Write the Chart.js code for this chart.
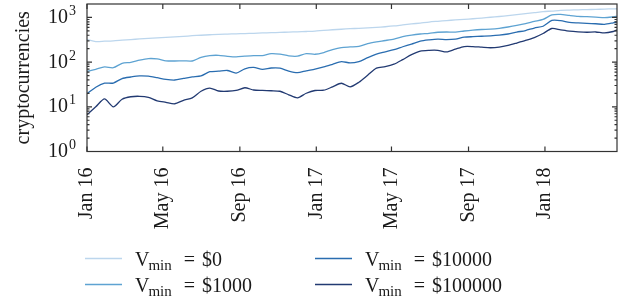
<!DOCTYPE html>
<html>
<head>
<meta charset="utf-8">
<script src="https://cdn.jsdelivr.net/npm/chart.js@4.4.1/dist/chart.umd.min.js"></script>
<style>
  html, body { margin: 0; padding: 0; background: #fff; }
</style>
</head>
<body>
<canvas id="chart" width="632" height="298"></canvas>
<script>
// days since 1 Jan 2016, a point every two weeks
var days = [0,14,28,42,56,70,84,98,112,126,140,154,168,182,196,210,224,238,252,266,280,294,308,322,336,350,364,378,392,406,420,434,448,462,476,490,504,518,532,546,560,574,588,602,616,630,644,658,672,686,700,714,728,742,756,770,784,798,812,826,840,846];

// number of cryptocurrencies above each minimum volume
var vmin0 = [320,289,294,300,310,320,330,340,350,360,368,378,390,400,410,420,425,430,435,442,450,457,462,470,477,485,495,515,530,545,560,572,585,600,620,645,680,715,750,790,820,850,880,905,935,970,1010,1050,1100,1160,1220,1280,1350,1390,1440,1460,1480,1500,1515,1540,1555,1565];
var vmin1000 = [62,69,78,75,94,99,111,120,118,107,106,107,106,128,140,142,135,131,136,140,140,155,151,138,136,155,150,164,191,212,219,225,261,285,305,329,373,403,426,442,466,472,470,497,520,537,548,572,611,661,725,813,902,1140,1170,1110,1060,1040,1020,990,1030,1060];
var vmin10000 = [19.6,27.5,33.7,34,43,46.5,49.2,48.4,44.8,41.2,39.8,43.1,46.6,49.2,61,62.6,65,57,71,76,69,74,73.5,63,58,64,70,78,89.5,103,96,103,126,151,170,191,221,254,295,315,328,320,328,361,372,380,388,402,426,470,510,580,635,855,848,777,755,737,722,703,758,790];
var vmin100000 = [6.6,10,15,10,14.8,16.8,17.2,16.3,13.6,12.6,11.7,14,15.9,22.3,26.3,22.6,22.3,23.2,26.7,23.8,23.3,22.9,22.3,18.6,15.9,20.1,23.2,23.5,28,33.7,28,35.5,51,73.5,79,90,114,147,177,184,184,169,195,223,223,216,210,217,237,268,305,355,437,566,528,494,476,466,473,450,485,525];

var seriesNames = ["$0", "$1000", "$10000", "$100000"];
var tickDays = [0, 121, 244, 366, 486, 609, 731];
var tickLabels = ["Jan 16", "May 16", "Sep 16", "Jan 17", "May 17", "Sep 17", "Jan 18"];
var decades = [1, 10, 100, 1000];

var colors = ["#bcd6ed", "#5ea3d2", "#2a6db0", "#223a72"];
var serif = "'Liberation Serif', 'Times New Roman', serif";
var ink = "#1a1a1a";

function points(vals) {
  var out = [];
  for (var i = 0; i < vals.length; i++) out.push({x: days[i], y: vals[i]});
  return out;
}

var allSeries = [vmin0, vmin1000, vmin10000, vmin100000];
var datasets = [];
for (var s = 0; s < allSeries.length; s++) {
  datasets.push({
    label: "Vmin = " + seriesNames[s],
    data: points(allSeries[s]),
    borderColor: colors[s],
    borderWidth: 1.3,
    pointRadius: 0,
    tension: 0.25,
    fill: false
  });
}

// box, inner tick marks, 10^n labels and the two-column legend
var extras = {
  id: "extras",
  afterDraw: function(chart) {
    var ctx = chart.ctx, a = chart.chartArea;
    var xs = chart.scales.x, ys = chart.scales.y;
    ctx.save();
    ctx.strokeStyle = "#333";
    ctx.lineWidth = 1.2;
    ctx.strokeRect(a.left, a.top, a.right - a.left, a.bottom - a.top);

    ctx.beginPath();
    for (var i = 0; i < tickDays.length; i++) {
      var px = xs.getPixelForValue(tickDays[i]);
      ctx.moveTo(px, a.bottom); ctx.lineTo(px, a.bottom - 5);
      ctx.moveTo(px, a.top); ctx.lineTo(px, a.top + 5);
    }
    for (var d = 0; d < decades.length; d++) {
      for (var m = 1; m <= 9; m++) {
        var v = decades[d] * m;
        if (v >= ys.max) break;
        var py = ys.getPixelForValue(v);
        var len = m == 1 ? 5 : 2.5;
        ctx.moveTo(a.left, py); ctx.lineTo(a.left + len, py);
        ctx.moveTo(a.right, py); ctx.lineTo(a.right - len, py);
      }
    }
    ctx.stroke();

    ctx.fillStyle = ink;
    for (var d = 0; d < decades.length; d++) {
      var py = ys.getPixelForValue(decades[d]);
      ctx.font = "20px " + serif;
      ctx.textAlign = "right";
      ctx.fillText("10", a.left - 19, py + 5.5);
      ctx.font = "14px " + serif;
      ctx.textAlign = "left";
      ctx.fillText(String(d), a.left - 18, py - 2.5);
    }

    // legend: column-wise, two rows
    var colX = [85, 315], rowY = [258.5, 284.5];
    for (var k = 0; k < datasets.length; k++) {
      var lx = colX[Math.floor(k / 2)], ly = rowY[k % 2];
      ctx.strokeStyle = colors[k];
      ctx.lineWidth = 1.5;
      ctx.beginPath();
      ctx.moveTo(lx, ly); ctx.lineTo(lx + 37, ly);
      ctx.stroke();
      var tx = lx + 50;
      ctx.textAlign = "left";
      ctx.font = "20px " + serif;
      ctx.fillText("V", tx, ly + 7);
      tx += ctx.measureText("V").width - 1;
      ctx.font = "15px " + serif;
      ctx.fillText("min", tx, ly + 11.5);
      tx += ctx.measureText("min").width + 12;
      ctx.font = "20px " + serif;
      ctx.fillText("=", tx, ly + 7);
      tx += ctx.measureText("=").width + 7;
      ctx.fillText(seriesNames[k], tx, ly + 7);
    }
    ctx.restore();
  }
};

new Chart(document.getElementById("chart"), {
  type: "line",
  data: { datasets: datasets },
  options: {
    responsive: false,
    animation: false,
    layout: { padding: { left: 0, right: 15, top: 4, bottom: 66.5 } },
    plugins: { legend: { display: false }, tooltip: { enabled: false } },
    scales: {
      x: {
        type: "linear",
        min: 0,
        max: 846,
        grid: { display: false },
        border: { display: false },
        afterBuildTicks: function(scale) {
          scale.ticks = tickDays.map(function(v) { return {value: v}; });
        },
        afterFit: function(scale) { scale.height = 80; },
        ticks: {
          autoSkip: false,
          minRotation: 90,
          maxRotation: 90,
          padding: 8,
          color: ink,
          font: { family: serif, size: 20 },
          callback: function(value, index) { return tickLabels[index]; }
        }
      },
      y: {
        type: "logarithmic",
        min: 1,
        max: 2000,
        grid: { display: false },
        border: { display: false },
        ticks: { display: false },
        afterFit: function(scale) { scale.width = 87; },
        title: {
          display: true,
          text: "cryptocurrencies",
          color: ink,
          font: { family: serif, size: 20 },
          padding: { top: 12, bottom: 0 }
        }
      }
    }
  },
  plugins: [extras]
});
</script>
</body>
</html>
